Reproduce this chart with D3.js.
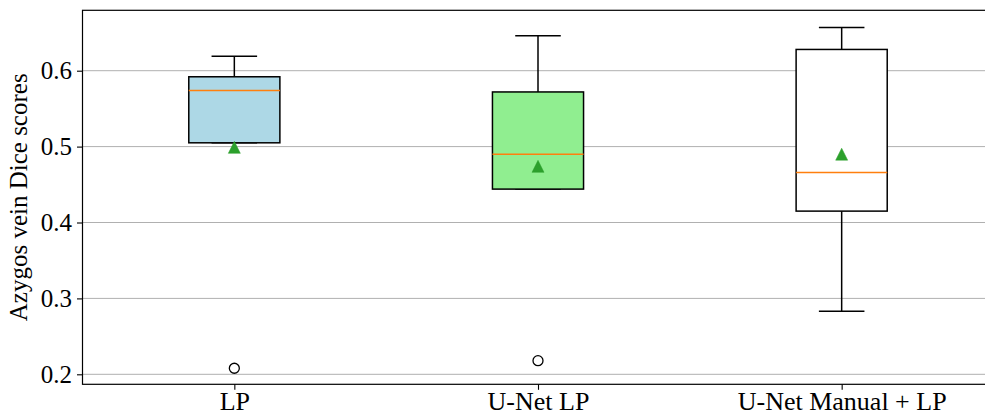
<!DOCTYPE html>
<html>
<head>
<meta charset="utf-8">
<script src="https://cdn.jsdelivr.net/npm/d3@7"></script>
<style>
  html, body { margin: 0; padding: 0; background: #fff; overflow: hidden; }
  svg { display: block; }
  text { font-family: "Liberation Serif", "Times New Roman", serif; fill: #000; }
</style>
</head>
<body>
<svg id="chart" width="985" height="418"></svg>
<script>
const categories = ["LP", "U-Net LP", "U-Net Manual + LP"];
const q1Values = [0.505, 0.444, 0.415];
const medianValues = [0.574, 0.490, 0.466];
const q3Values = [0.592, 0.572, 0.628];
const whiskerLow = [0.505, 0.444, 0.283];
const whiskerHigh = [0.619, 0.646, 0.657];
const meanValues = [0.499, 0.474, 0.490];
const outlierValues = [[0.208], [0.218], []];
const boxColors = ["#add8e6", "#90ee90", "#ffffff"];
const yTicks = [0.2, 0.3, 0.4, 0.5, 0.6];
const yLabel = "Azygos vein Dice scores";

(function () {
const svg = d3.select("#chart");
const pLeft = 82.5, pRight = 993.5, pTop = 10.3, pBottom = 384.3;

const x = d3.scaleLinear().domain([0.5, 3.5]).range([pLeft, pRight]);
const y = d3.scaleLinear().domain([0.2, 0.6]).range([374.3, 70.7]);
y.domain([y.invert(pBottom), y.invert(pTop)]).range([pBottom, pTop]);

const boxW = 0.3, capW = 0.15;

svg.append("g").selectAll("line").data(yTicks).join("line")
  .attr("x1", pLeft).attr("x2", pRight)
  .attr("y1", d => y(d)).attr("y2", d => y(d))
  .attr("stroke", "#b0b0b0").attr("stroke-width", 1);

const data = categories.map((c, i) => ({
  c, i, pos: i + 1, q1: q1Values[i], med: medianValues[i], q3: q3Values[i],
  lo: whiskerLow[i], hi: whiskerHigh[i], mean: meanValues[i], out: outlierValues[i], color: boxColors[i]
}));

const g = svg.append("g");
data.forEach(d => {
  const gg = g.append("g");
  gg.append("line").attr("x1", x(d.pos)).attr("x2", x(d.pos))
    .attr("y1", y(d.q3)).attr("y2", y(d.hi)).attr("stroke", "#000").attr("stroke-width", 1.5);
  gg.append("line").attr("x1", x(d.pos)).attr("x2", x(d.pos))
    .attr("y1", y(d.q1)).attr("y2", y(d.lo)).attr("stroke", "#000").attr("stroke-width", 1.5);
  [d.hi, d.lo].forEach(v => {
    gg.append("line").attr("x1", x(d.pos - capW / 2)).attr("x2", x(d.pos + capW / 2))
      .attr("y1", y(v)).attr("y2", y(v)).attr("stroke", "#000").attr("stroke-width", 1.5);
  });
  gg.append("rect").attr("x", x(d.pos - boxW / 2)).attr("width", x(d.pos + boxW / 2) - x(d.pos - boxW / 2))
    .attr("y", y(d.q3)).attr("height", y(d.q1) - y(d.q3))
    .attr("fill", d.color).attr("stroke", "#000").attr("stroke-width", 1.5);
  gg.append("line").attr("x1", x(d.pos - boxW / 2)).attr("x2", x(d.pos + boxW / 2))
    .attr("y1", y(d.med)).attr("y2", y(d.med)).attr("stroke", "#ff7f0e").attr("stroke-width", 1.5);
  gg.selectAll("circle").data(d.out).join("circle")
    .attr("cx", x(d.pos)).attr("cy", v => y(v)).attr("r", 5)
    .attr("fill", "none").attr("stroke", "#000").attr("stroke-width", 1.3);
  const cx = x(d.pos), cy = y(d.mean), s = 6;
  gg.append("path").attr("d", `M${cx},${cy - s}L${cx + s},${cy + s}L${cx - s},${cy + s}Z`)
    .attr("fill", "#2ca02c").attr("stroke", "#2ca02c").attr("stroke-width", 0.5);
});

svg.append("rect").attr("x", pLeft).attr("y", pTop).attr("width", pRight - pLeft).attr("height", pBottom - pTop)
  .attr("fill", "none").attr("stroke", "#000").attr("stroke-width", 1.2);

const yAxis = d3.axisLeft(y).tickValues(yTicks).tickSize(5.5).tickPadding(5).tickFormat(d3.format(".1f"));
const ya = svg.append("g").attr("transform", `translate(${pLeft},0)`).call(yAxis);
ya.attr("font-family", null);
ya.select(".domain").remove();
ya.selectAll("line").attr("stroke", "#000").attr("stroke-width", 1.1);
ya.selectAll("text").attr("font-size", 25).attr("fill", "#000");

const xAxis = d3.axisBottom(x).tickValues([1, 2, 3]).tickSize(5.5).tickPadding(5).tickFormat(d => categories[d - 1]);
const xa = svg.append("g").attr("transform", `translate(0,${pBottom})`).call(xAxis);
xa.attr("font-family", null);
xa.select(".domain").remove();
xa.selectAll("line").attr("stroke", "#000").attr("stroke-width", 1.1);
xa.selectAll("text").attr("font-size", 26).attr("fill", "#000").attr("dy", "0.6em");

svg.append("text").attr("transform", `translate(27,${(pTop + pBottom) / 2}) rotate(-90)`)
  .attr("text-anchor", "middle").attr("font-size", 25).text(yLabel);
})();
</script>
</body>
</html>
